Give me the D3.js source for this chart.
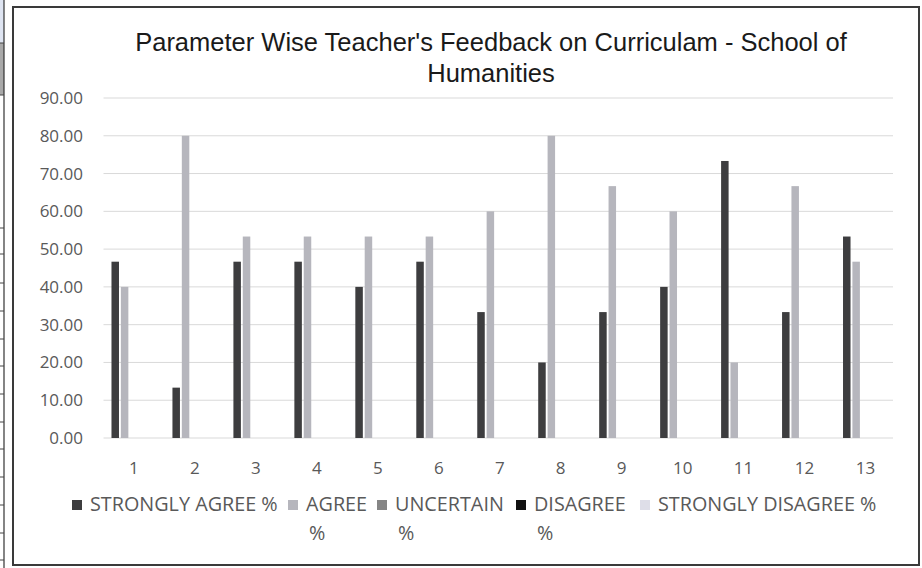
<!DOCTYPE html>
<html>
<head>
<meta charset="utf-8">
<script src="https://cdn.jsdelivr.net/npm/d3@7"></script>
<style>
  body { margin: 0; background: #fff; }
  svg { display: block; }
  .tick-label { font-family: "Open Sans", sans-serif; font-size: 17px; fill: #595959; }
  .legend-text { font-family: "Open Sans", sans-serif; font-size: 19.8px; fill: #595959; }
  .title { font-family: "Liberation Sans", Arial, sans-serif; font-size: 25.5px; fill: #1a1a1a; }
</style>
</head>
<body>
<div id="chart"></div>
<script>
var svgWidth = 922;
var svgHeight = 568;

// data
var categories = ["1", "2", "3", "4", "5", "6", "7", "8", "9", "10", "11", "12", "13"];
var seriesNames = ["STRONGLY AGREE %", "AGREE %", "UNCERTAIN %", "DISAGREE %", "STRONGLY DISAGREE %"];
var stronglyAgree = [46.67, 13.33, 46.67, 46.67, 40.00, 46.67, 33.33, 20.00, 33.33, 40.00, 73.33, 33.33, 53.33];
var agree = [40.00, 80.00, 53.33, 53.33, 53.33, 53.33, 60.00, 80.00, 66.67, 60.00, 20.00, 66.67, 46.67];
var uncertain = [0, 0, 0, 0, 0, 0, 0, 0, 0, 0, 0, 0, 0];
var disagree = [0, 0, 0, 0, 0, 0, 0, 0, 0, 0, 0, 0, 0];
var stronglyDisagree = [0, 0, 0, 0, 0, 0, 0, 0, 0, 0, 0, 0, 0];
var yTicks = [0, 10, 20, 30, 40, 50, 60, 70, 80, 90];

var seriesValues = [stronglyAgree, agree, uncertain, disagree, stronglyDisagree];
var colors = ["#3d3d3f", "#b6b6bd", "#858585", "#111111", "#dedee8"];

var svg = d3.select("#chart")
  .append("svg")
  .attr("width", svgWidth)
  .attr("height", svgHeight);

// bit of the neighbouring table at the left edge of the scan
var strip = svg.append("g");
strip.append("rect").attr("x", 0).attr("y", 0).attr("width", 4).attr("height", 43).attr("fill", "#dfe5f2");
strip.append("rect").attr("x", 0).attr("y", 43).attr("width", 4).attr("height", 52).attr("fill", "#a9a9a9");
strip.append("line").attr("x1", 4).attr("x2", 4).attr("y1", 0).attr("y2", 568).attr("stroke", "#333").attr("stroke-width", 1.2);
[43, 95, 228, 254, 283, 311, 339, 366, 394, 422, 449, 477, 505, 533, 560].forEach(function(y) {
  strip.append("line").attr("x1", 0).attr("x2", 4).attr("y1", y).attr("y2", y).attr("stroke", "#444");
});

// chart frame
svg.append("rect")
  .attr("x", 13).attr("y", 7)
  .attr("width", 906).attr("height", 558)
  .attr("fill", "#fff")
  .attr("stroke", "#3a3a3a")
  .attr("stroke-width", 2);

// title
var title = svg.append("text").attr("class", "title").attr("text-anchor", "middle");
title.append("tspan").attr("x", 491).attr("y", 51).text("Parameter Wise Teacher's Feedback on Curriculam - School of");
title.append("tspan").attr("x", 491).attr("y", 82).text("Humanities");

// scales
var x0 = d3.scaleBand()
  .domain(categories)
  .range([103.5, 896])
  .paddingInner(0.262)
  .paddingOuter(0.131);

var x1 = d3.scaleBand()
  .domain(seriesNames)
  .range([0, x0.bandwidth()])
  .paddingInner(0.2);

var y = d3.scaleLinear()
  .domain([0, 90])
  .range([438, 98]);

// gridlines
svg.append("g")
  .selectAll("line")
  .data(yTicks)
  .enter()
  .append("line")
  .attr("x1", 103.5)
  .attr("x2", 893)
  .attr("y1", d => y(d))
  .attr("y2", d => y(d))
  .attr("stroke", "#d9d9d9")
  .attr("stroke-width", 1);

// y labels
svg.append("g")
  .selectAll("text")
  .data(yTicks)
  .enter()
  .append("text")
  .attr("class", "tick-label")
  .attr("x", 83)
  .attr("y", d => y(d))
  .attr("dy", "0.35em")
  .attr("text-anchor", "end")
  .text(d => d.toFixed(2));

// x labels
svg.append("g")
  .selectAll("text")
  .data(categories)
  .enter()
  .append("text")
  .attr("class", "tick-label")
  .attr("x", d => x0(d) + x0.bandwidth() / 2)
  .attr("y", 468)
  .attr("dy", "0.35em")
  .attr("text-anchor", "middle")
  .text(d => d);

// bars
var groups = svg.append("g")
  .selectAll("g")
  .data(categories)
  .enter()
  .append("g")
  .attr("transform", d => `translate(${x0(d)},0)`);

groups.selectAll("rect")
  .data((d, i) => seriesNames.map((s, j) => ({ series: s, value: seriesValues[j][i], color: colors[j] })))
  .enter()
  .append("rect")
  .attr("x", d => x1(d.series))
  .attr("width", x1.bandwidth())
  .attr("y", d => y(d.value))
  .attr("height", d => y(0) - y(d.value))
  .attr("fill", d => d.color);

// legend (wrapped like the original)
var legendItems = [
  { lines: ["STRONGLY AGREE %"], x: 72 },
  { lines: ["AGREE", "%"], x: 288 },
  { lines: ["UNCERTAIN", "%"], x: 377 },
  { lines: ["DISAGREE", "%"], x: 516 },
  { lines: ["STRONGLY DISAGREE %"], x: 640 }
];

var legend = svg.append("g");
legendItems.forEach(function(item, i) {
  legend.append("rect")
    .attr("x", item.x)
    .attr("y", 500)
    .attr("width", 10)
    .attr("height", 10)
    .attr("fill", colors[i]);
  var t = legend.append("text").attr("class", "legend-text");
  item.lines.forEach(function(line, k) {
    t.append("tspan")
      .attr("x", k === 0 ? item.x + 18 : item.x + 21)
      .attr("y", 504 + k * 29)
      .attr("dy", "0.35em")
      .text(line);
  });
});
</script>
</body>
</html>
